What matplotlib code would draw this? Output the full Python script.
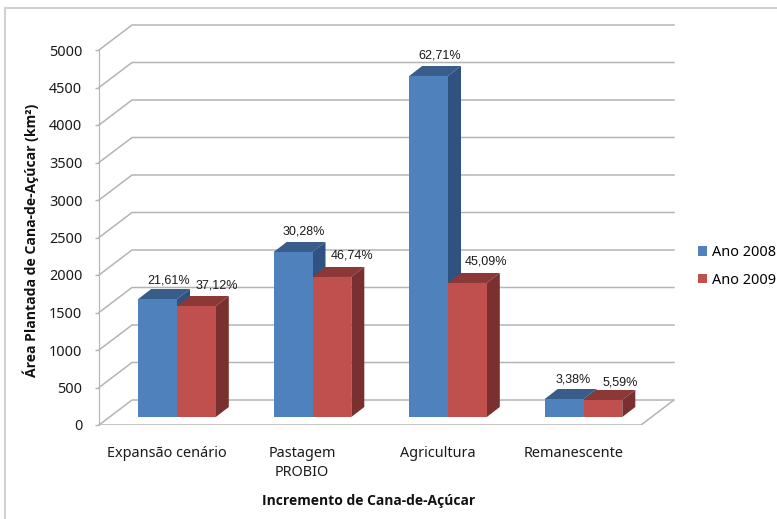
import matplotlib
matplotlib.use('Agg')
import matplotlib.pyplot as plt
from matplotlib.lines import Line2D
from matplotlib.patches import Polygon

categorias = ['Expansão cenário', 'Pastagem\nPROBIO', 'Agricultura', 'Remanescente']
ano_2008 = [1573, 2200, 4547, 240]
ano_2009 = [1480, 1867, 1787, 227]
rotulos_2008 = ['21,61%', '30,28%', '62,71%', '3,38%']
rotulos_2009 = ['37,12%', '46,74%', '45,09%', '5,59%']
ticks_y = [0, 500, 1000, 1500, 2000, 2500, 3000, 3500, 4000, 4500, 5000]

W, H = 777, 519
# escala em pixels
PX_CAT = 135.5
PX_VAL = 0.075
# profundidade da parede e das barras, em unidades dos eixos
PAREDE_X = 33 / PX_CAT
PAREDE_Y = 25 / PX_VAL
BARRA_X = 13 / PX_CAT
BARRA_Y = 10 / PX_VAL
BASE = 8 / PX_VAL
LARG = 38.8 / PX_CAT
GRADE = '#b4b4b4'

def barras3d(ax, xs, valores, frente, topo, lado, cor_label, rotulos, desl_x, desl_y):
    # face frontal
    cont = ax.bar(xs, valores, LARG, bottom=BASE, color=frente, linewidth=0, zorder=3)
    for x, v, r, dx, dy in zip(xs, valores, rotulos, desl_x, desl_y):
        x0 = x - LARG / 2
        x1 = x + LARG / 2
        y0 = BASE
        y1 = BASE + v
        # topo e lateral da barra
        ax.add_patch(Polygon([(x0, y1), (x1, y1), (x1 + BARRA_X, y1 + BARRA_Y), (x0 + BARRA_X, y1 + BARRA_Y)],
                             facecolor=topo, linewidth=0, zorder=2))
        ax.add_patch(Polygon([(x1, y0), (x1, y1), (x1 + BARRA_X, y1 + BARRA_Y), (x1 + BARRA_X, y0 + BARRA_Y)],
                             facecolor=lado, linewidth=0, zorder=2))
        ax.annotate(r, (x, y1), xytext=(dx * 0.72, dy * 0.72), textcoords='offset points',
                    ha='center', va='center', fontsize=9, family='Liberation Sans',
                    color=cor_label, zorder=6)
    return cont

def main():
    fig = plt.figure(figsize=(W / 100, H / 100), dpi=100)
    # moldura: so o topo e a esquerda
    fig.add_artist(Line2D([5 / W, 5 / W, 1], [0, 1 - 8 / H, 1 - 8 / H], color='#d0d0d0', lw=1.4))

    ax = fig.add_axes([99 / W, 1 - 425 / H, 575 / W, 400 / H])
    ax.patch.set_alpha(0)
    ax.set_xlim(0, 575 / PX_CAT)
    ax.set_ylim(0, 400 / PX_VAL)

    # grade da parede de fundo e da lateral
    fim_x = len(categorias)
    for t in ticks_y:
        ax.plot([0, PAREDE_X, fim_x + PAREDE_X], [t, t + PAREDE_Y, t + PAREDE_Y],
                color=GRADE, lw=1.1, zorder=1, clip_on=False)
    # piso
    ax.plot([0, fim_x, fim_x + PAREDE_X], [0, 0, PAREDE_Y], color=GRADE, lw=1.1, zorder=1)

    xs = list(range(len(categorias)))
    xs_2008 = [x + 0.5 - LARG / 2 + 10.25 / PX_CAT for x in xs]
    xs_2009 = [x + 0.5 + LARG / 2 + 10.25 / PX_CAT for x in xs]

    b1 = barras3d(ax, xs_2008, ano_2008, '#4f81bd', '#385d8a', '#2f5380', '#1a1a1a', rotulos_2008,
                  [11, 11, 11.5, 9], [19, 21, 20, 19])
    b2 = barras3d(ax, xs_2009, ano_2009, '#c0504d', '#8c3836', '#7a302e', '#1a1a1a', rotulos_2009,
                  [20, 20, 19, 17], [20, 21, 21, 17])

    # eixos
    for lado in ['top', 'right', 'bottom']:
        ax.spines[lado].set_visible(False)
    ax.spines['left'].set_bounds(0, 5000)
    ax.spines['left'].set_color(GRADE)
    ax.set_yticks(ticks_y)
    ax.set_yticklabels([str(t) for t in ticks_y], fontsize=10.4, family='Noto Sans', color='#1a1a1a')
    ax.tick_params(axis='y', length=3, width=1, color=GRADE, pad=9)
    ax.set_xticks([x + 0.5 for x in xs])
    ax.set_xticklabels(categorias, fontsize=10.4, family='Noto Sans', color='#1a1a1a', linespacing=1.35)
    ax.tick_params(axis='x', length=0, pad=15)

    fig.text(31 / W, 1 - 240 / H, 'Área Plantada de Cana-de-Açúcar (km²)', rotation=90,
             ha='center', va='center', fontsize=10.1, fontweight='bold', family='Open Sans', color='#111111')
    fig.text(369 / W, 1 - 501 / H, 'Incremento de Cana-de-Açúcar',
             ha='center', va='center', fontsize=10, fontweight='bold', family='Open Sans', color='#111111')

    fig.legend([b1, b2], ['Ano 2008', 'Ano 2009'], loc='upper left', bbox_to_anchor=(698 / W, 1 - 245 / H),
               frameon=False, prop={'family': 'Noto Sans', 'size': 10.4}, handlelength=0.62, handleheight=0.62,
               handletextpad=0.35, labelspacing=0.88, borderpad=0, borderaxespad=0)

    plt.savefig('out.png', dpi=100)

if __name__ == '__main__':
    main()
